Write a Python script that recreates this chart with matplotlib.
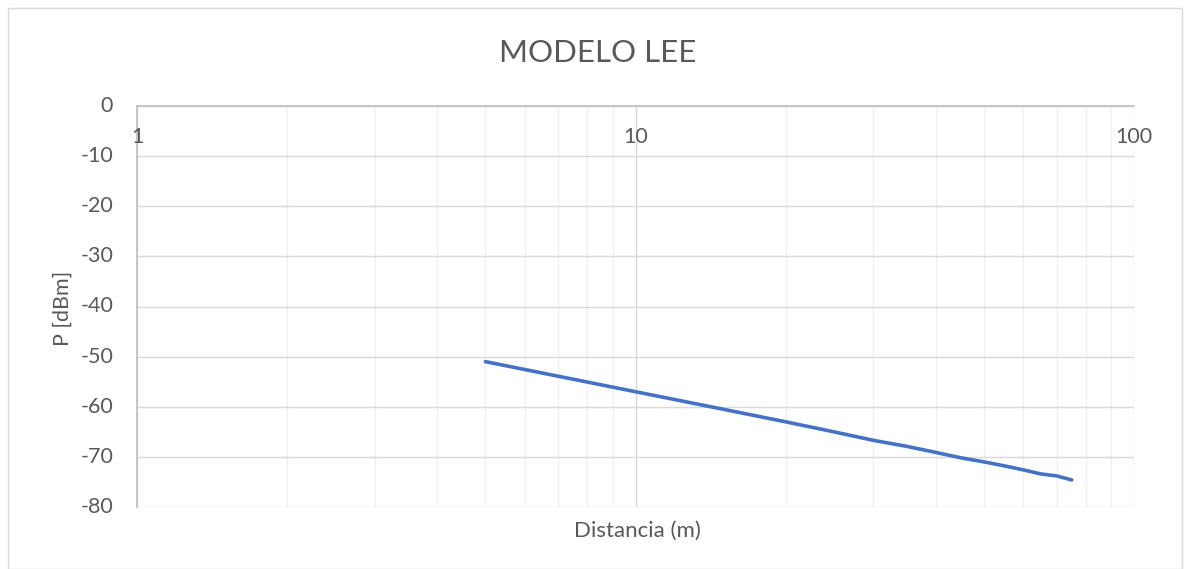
import matplotlib
matplotlib.use('Agg')
import matplotlib.pyplot as plt
from matplotlib.patches import Rectangle
import numpy as np

# distancia (m) y potencia recibida (dBm)
distancia = [5, 10, 15, 20, 25, 30, 35, 40, 45, 50, 55, 60, 65, 70, 75]
potencia = [-51.0, -57.0, -60.5, -63.0, -65.0, -66.7, -67.9, -69.1, -70.2,
            -71.0, -71.8, -72.6, -73.4, -73.8, -74.6]

x_ticks = [1, 10, 100]
x_labels = ['1', '10', '100']
y_ticks = [0, -10, -20, -30, -40, -50, -60, -70, -80]

plt.rcParams['font.family'] = ['Lato', 'DejaVu Sans']
txt = '#595959'

fig = plt.figure(figsize=(11.87, 5.69), dpi=100)
ax = fig.add_axes([137 / 1187, 1 - 507 / 569, (1134 - 137) / 1187, (507 - 106) / 569])

ax.set_xscale('log')
ax.set_xlim(1, 100)
ax.set_ylim(-80, 0)

ax.plot(distancia, potencia, color='#4472C4', lw=2.6, solid_capstyle='round', zorder=3)

# rejilla
ax.set_xticks(x_ticks)
ax.set_xticks([m * 10 ** e for e in (0, 1) for m in range(2, 10)], minor=True)
ax.set_yticks(y_ticks)
ax.grid(which='major', axis='both', color='#D9D9D9', lw=1.0)
ax.grid(which='minor', axis='x', color='#F0F0F0', lw=1.0)
ax.tick_params(which='both', length=0, labelbottom=False, labelleft=False)

for s in ['right', 'bottom']:
    ax.spines[s].set_visible(False)
ax.spines['top'].set_color('#BFBFBF')
ax.spines['left'].set_color('#BFBFBF')
ax.spines['top'].set_linewidth(1.2)
ax.spines['left'].set_linewidth(1.2)

# etiquetas del eje x bajo la linea superior (cruce en 0)
trans = ax.get_xaxis_transform()
for xv, lab in zip(x_ticks, x_labels):
    ax.text(xv, 1 - 31 / 401, lab, transform=trans, ha='center', va='center',
            fontsize=15.5, color=txt)

ytrans = ax.get_yaxis_transform()
for yv in y_ticks:
    ax.text(-24 / 997, yv, str(yv), transform=ytrans, ha='right', va='center',
            fontsize=15.5, color=txt)

fig.text(637 / 1187, 1 - 531 / 569, 'Distancia (m)', ha='center', va='center',
         fontsize=16, color=txt)
fig.text(63 / 1187, 1 - 308 / 569, 'P [dBm]', ha='center', va='center',
         rotation=90, fontsize=15.5, color=txt)
fig.text(598 / 1187, 1 - 53 / 569, 'MODELO LEE', ha='center', va='center',
         fontsize=22.5, color=txt)

fig.patches.append(Rectangle((8 / 1187, 0.0), 1174 / 1187, 1 - 8 / 569,
                             transform=fig.transFigure, fill=False,
                             edgecolor='#D9D9D9', lw=1.0))

fig.savefig('out.png', dpi=100)
